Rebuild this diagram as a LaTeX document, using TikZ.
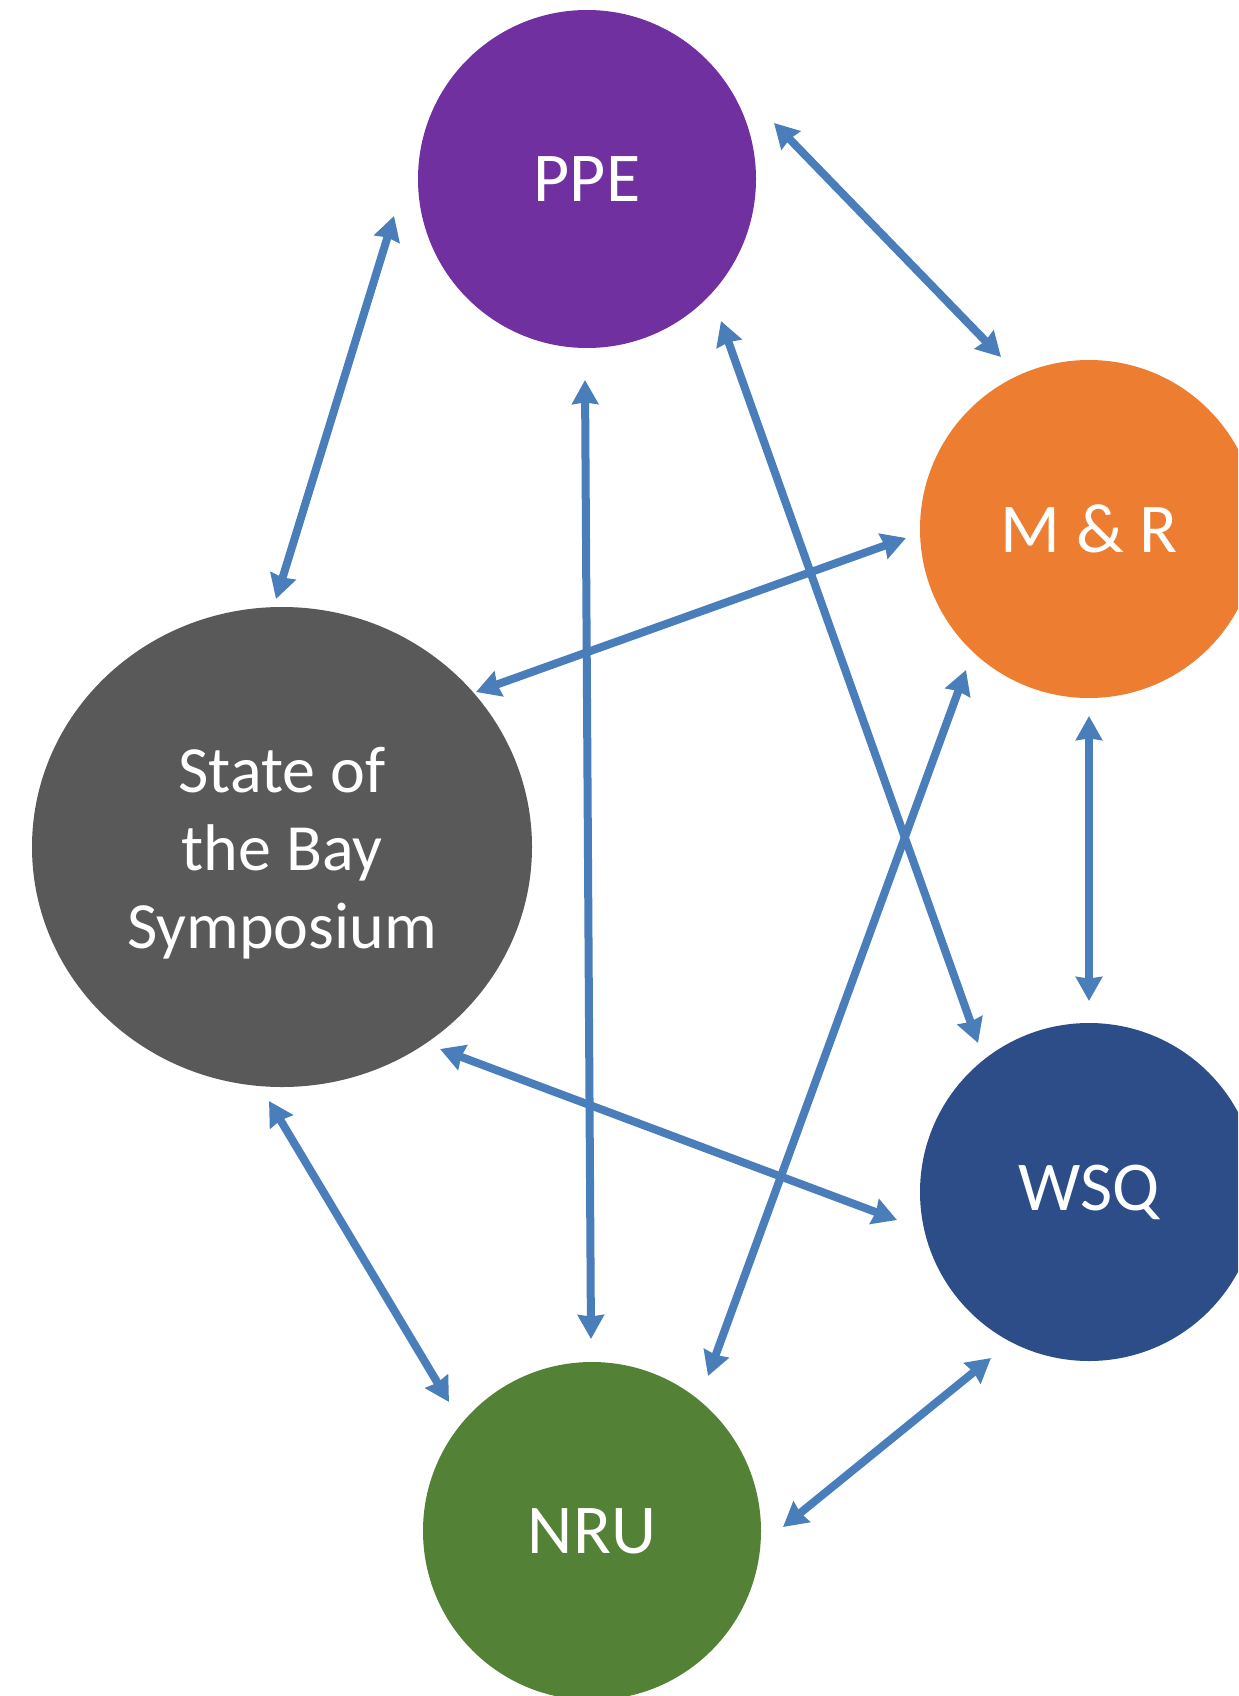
\documentclass[tikz,border=0pt]{standalone}
\usepackage{fontspec}
\setmainfont{Carlito}
\usetikzlibrary{arrows.meta,shapes.geometric}
\definecolor{ppecol}{HTML}{7030A0}
\definecolor{mrcol}{HTML}{ED7D31}
\definecolor{sotbcol}{HTML}{595959}
\definecolor{wsqcol}{HTML}{2C4D87}
\definecolor{nrucol}{HTML}{538135}
\definecolor{linkcol}{HTML}{4A7EBB}
\tikzset{
  linktip/.tip={Stealth[length=12pt,width=13pt,inset=0.8pt]},
}
\begin{document}
\begin{tikzpicture}[x=0.5pt,y=-0.5pt,
  bubble/.style={circle,minimum size=169pt,inner sep=0pt,text=white,
    font=\fontsize{35}{40}\selectfont,align=center},
  oval/.style={ellipse,minimum width=250pt,minimum height=240pt,inner sep=0pt},
  link/.style={color=linkcol,line width=4pt,linktip-linktip}]
\useasboundingbox (0,0) rectangle (1238,1696);
\clip (0,0) rectangle (1238,1696);
\fill[white] (0,0) rectangle (1238,1696);

% topic groups
\node[bubble,fill=ppecol] (ppe) at (587,179) {PPE};
\node[bubble,fill=mrcol] (mr) at (1089,529) {M \& R};
\node[oval,fill=sotbcol] (sotb) at (282,847) {};
\node[text=white,font=\fontsize{33}{39}\selectfont,align=center] (sotbtext) at (282,853) {State of\\the Bay\\Symposium};
\node[bubble,fill=wsqcol] (wsq) at (1089,1192) {WSQ};
\node[bubble,fill=nrucol] (nru) at (592,1531) {NRU};

% connector end points
\coordinate (p1) at (394,216);  \coordinate (s1) at (276,599);
\coordinate (p2) at (774,123);  \coordinate (m2) at (1001,357);
\coordinate (p3) at (585,380);  \coordinate (n3) at (591,1339);
\coordinate (p4) at (721,321);  \coordinate (w4) at (978,1043);
\coordinate (m5) at (906,538);  \coordinate (s5) at (476,692);
\coordinate (m6) at (966,670);  \coordinate (n6) at (708,1376);
\coordinate (m7) at (1089,716); \coordinate (w7) at (1089,1001);
\coordinate (s8) at (440,1049); \coordinate (w8) at (897,1220);
\coordinate (s9) at (269,1101); \coordinate (n9) at (449,1402);
\coordinate (w10) at (991,1358); \coordinate (n10) at (783,1527);

% two-way links
\draw[link] (p1) -- (s1);
\draw[link] (p2) -- (m2);
\draw[link] (p3) -- (n3);
\draw[link] (p4) -- (w4);
\draw[link] (m5) -- (s5);
\draw[link] (m6) -- (n6);
\draw[link] (m7) -- (w7);
\draw[link] (s8) -- (w8);
\draw[link] (s9) -- (n9);
\draw[link] (w10) -- (n10);
\end{tikzpicture}
\end{document}
